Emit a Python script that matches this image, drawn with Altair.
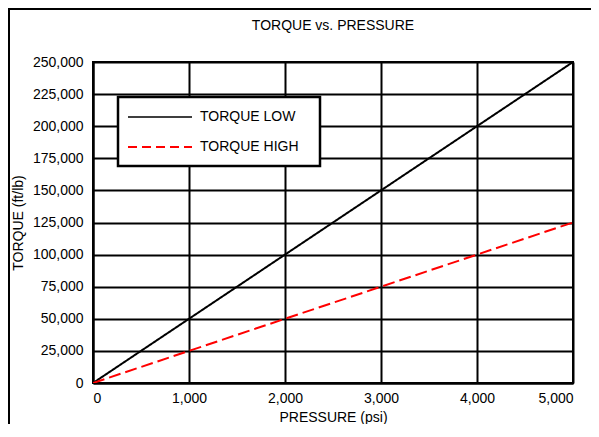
import altair as alt
import pandas as pd

pressure = [0, 1000, 2000, 3000, 4000, 5000]
torque_low = [0, 50000, 100000, 150000, 200000, 250000]
torque_high = [0, 25000, 50000, 75000, 100000, 125000]
series_names = ["TORQUE LOW", "TORQUE HIGH"]
series_colors = ["#000000", "#ff0000"]
series_dashes = [[1, 0], [12, 5]]
x_ticks = [0, 1000, 2000, 3000, 4000, 5000]
y_ticks = [0, 25000, 50000, 75000, 100000, 125000, 150000, 175000, 200000, 225000, 250000]

FONT = "Liberation Sans"

df = pd.concat([
    pd.DataFrame({"pressure": pressure, "torque": torque_low, "series": series_names[0]}),
    pd.DataFrame({"pressure": pressure, "torque": torque_high, "series": series_names[1]}),
])

W, H = 480, 321
one = pd.DataFrame({"a": [0]})

# outer chart frame (its right and bottom sides lie beyond the window)
frame_top = alt.Chart(one).mark_rule(color="black", strokeWidth=2).encode(
    x=alt.value(-85), x2=alt.value(W + 60), y=alt.value(-53))
frame_left = alt.Chart(one).mark_rule(color="black", strokeWidth=2).encode(
    x=alt.value(-84), y=alt.value(-54), y2=alt.value(H + 60))

lines = alt.Chart(df).mark_line(strokeWidth=2, clip=True).encode(
    x=alt.X("pressure:Q",
            scale=alt.Scale(domain=[0, 5000], nice=False, zero=False),
            axis=alt.Axis(values=x_ticks, format=",d", title="PRESSURE (psi)",
                          labelPadding=8, titlePadding=5)),
    y=alt.Y("torque:Q",
            scale=alt.Scale(domain=[0, 250000], nice=False),
            axis=alt.Axis(values=y_ticks, format=",d", title="TORQUE (ft/lb)",
                          labelPadding=10, titlePadding=7)),
    color=alt.Color("series:N", scale=alt.Scale(domain=series_names, range=series_colors), legend=None),
    strokeDash=alt.StrokeDash("series:N", scale=alt.Scale(domain=series_names, range=series_dashes), legend=None),
    strokeWidth=alt.StrokeWidth("series:N", scale=alt.Scale(domain=series_names, range=[1.6, 2.2]), legend=None),
)

legend_box = alt.Chart(one).mark_rect(
    fill="white", stroke="black", strokeWidth=2.5
).encode(x=alt.value(25), x2=alt.value(227), y=alt.value(35), y2=alt.value(104))

layers = [frame_top, frame_left, lines, legend_box]
for i, name in enumerate(series_names):
    ldf = pd.DataFrame({"series": [name]})
    yy = 55 + 30 * i
    layers.append(
        alt.Chart(ldf).mark_rule(color=series_colors[i], strokeWidth=[1.6, 2.2][i], strokeDash=[[1, 0], [9, 5]][i]).encode(
            x=alt.value(35), x2=alt.value(99), y=alt.value(yy))
    )
    layers.append(
        alt.Chart(ldf).mark_text(align="left", baseline="middle", font=FONT, fontSize=14, color="black").encode(
            x=alt.value(107), y=alt.value(yy), text="series:N")
    )

chart = alt.layer(*layers).properties(
    width=W, height=H,
    title=alt.TitleParams("TORQUE vs. PRESSURE", font=FONT, fontSize=14, fontWeight="normal",
                          color="black", anchor="middle", frame="group", offset=-26),
    autosize=alt.AutoSizeParams(type="none"),
    padding={"left": 85, "top": 54, "right": 18, "bottom": 41},
    background="white",
).configure_view(stroke="black", strokeWidth=2).configure_axis(
    domainColor="black", domainWidth=2, gridColor="black", gridWidth=2, gridOpacity=1,
    ticks=False, labelFont=FONT, labelFontSize=14, labelColor="black",
    titleFont=FONT, titleFontSize=14, titleFontWeight="normal", titleColor="black",
)

chart.save("out.html", embed_options={"renderer": "svg", "actions": False})
